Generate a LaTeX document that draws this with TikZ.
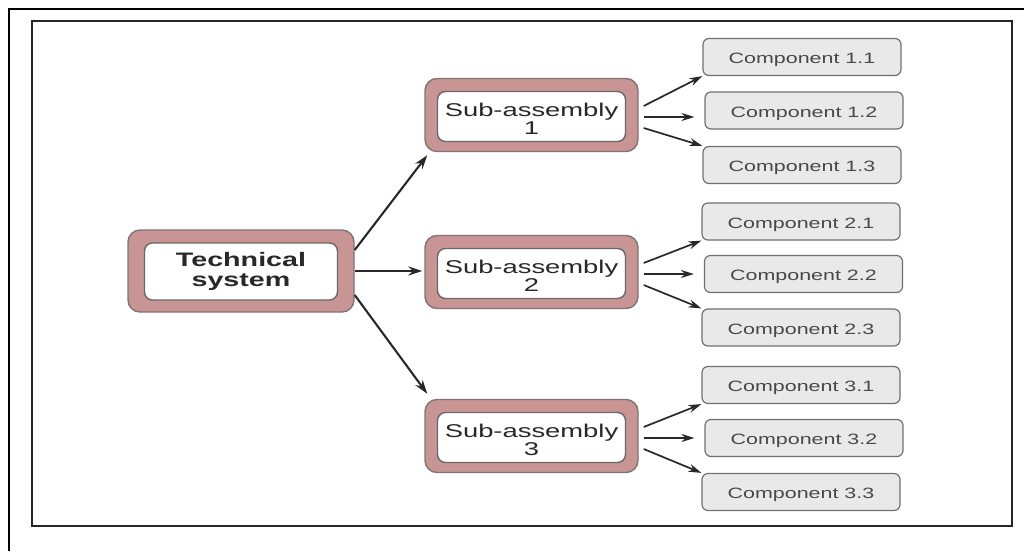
\documentclass[tikz,border=0pt]{standalone}
\usepackage{fontspec}
\setmainfont{Liberation Sans}
\usepackage{graphicx}
\usetikzlibrary{arrows.meta}

\definecolor{shellfill}{RGB}{200,148,148}
\definecolor{shelldraw}{RGB}{128,116,116}
\definecolor{coredraw}{RGB}{105,105,105}
\definecolor{compfill}{RGB}{233,233,233}
\definecolor{compdraw}{RGB}{112,112,112}
\definecolor{ink}{RGB}{40,40,40}

% two centred lines with a fixed baseline distance; #4 is extra room on top
\newcommand\stacktwo[4]{\vbox{\kern#4\baselineskip=#1\lineskiplimit=-100pt\lineskip=0pt
  \halign{\hfil##\hfil\cr#2\cr#3\cr}}}
% horizontally widened lettering
\newcommand\widetext[2]{\scalebox{#1}[1]{#2}}

\tikzset{
  shell/.style={draw=shelldraw, line width=1.4pt, fill=shellfill,
    rounded corners=12pt, inner sep=0pt},
  core/.style={draw=coredraw, line width=1.4pt, fill=white,
    rounded corners=8pt, inner sep=0pt, text=ink},
  comp/.style={draw=compdraw, line width=1.2pt, fill=compfill,
    rounded corners=6pt, inner sep=0pt, minimum width=198pt,
    minimum height=37pt, text=ink!85!white, text height=13pt, text depth=0pt,
    font=\fontsize{15}{17}\selectfont},
  bigarrow/.style={draw=ink, line width=2.1pt,
    -{Stealth[length=14pt, width=9pt]}},
  smallarrow/.style={draw=ink, line width=1.7pt,
    -{Stealth[length=13pt, width=8pt]}},
}

\begin{document}
\begin{tikzpicture}[x=1pt, y=-1pt]
\useasboundingbox (0,0) rectangle (1024,551);

% frames
\draw[line width=2pt, black] (1024,9) -- (9,9) -- (9,551);
\draw[line width=1.6pt, black!85] (32,21) rectangle (1012,526);

% technical system
\node[shell, minimum width=226pt, minimum height=82pt] (ts) at (241,271) {};
\node[core, minimum width=193pt, minimum height=57pt,
      font=\bfseries\fontsize{19.5}{20}\selectfont] (tsin) at (241,271.5)
  {\widetext{1.47}{\stacktwo{20pt}{Technical}{system}{0pt}}};

% sub-assemblies
\foreach \i/\y in {1/115, 2/272, 3/436}{
  \node[shell, minimum width=213pt, minimum height=73pt] (sa\i) at (531.5,\y) {};
  \node[core, minimum width=188pt, minimum height=50pt,
        font=\fontsize{18.5}{18}\selectfont] (sa\i in) at (531.5,\y+1.5)
    {\widetext{1.48}{\stacktwo{18pt}{Sub-assembly}{\i}{4pt}}};
}

% components
\node[comp] (c11) at (802,57)    {\widetext{1.43}{Component 1.1}};
\node[comp] (c12) at (804,110.5) {\widetext{1.43}{Component 1.2}};
\node[comp] (c13) at (802,165)   {\widetext{1.43}{Component 1.3}};
\node[comp] (c21) at (801,221.5) {\widetext{1.43}{Component 2.1}};
\node[comp] (c22) at (803.5,274) {\widetext{1.43}{Component 2.2}};
\node[comp] (c23) at (801,327.5) {\widetext{1.43}{Component 2.3}};
\node[comp] (c31) at (801,385)   {\widetext{1.43}{Component 3.1}};
\node[comp] (c32) at (804,438)   {\widetext{1.43}{Component 3.2}};
\node[comp] (c33) at (801,492)   {\widetext{1.43}{Component 3.3}};

% system to sub-assemblies
\draw[bigarrow] ([yshift=21pt]ts.east) -- ([xshift=3pt,yshift=-3pt]sa1.south west);
\draw[bigarrow, shorten >=2pt] (ts.east) -- (ts.east -| sa2.west);
\draw[bigarrow] ([yshift=-24pt]ts.east) -- ([xshift=3pt,yshift=5pt]sa3.north west);

% sub-assemblies to components
\foreach \i in {1,2,3}{
  \draw[smallarrow] ([xshift=5pt,yshift=9pt]sa\i.east) -- (c\i1.south west);
  \draw[smallarrow, shorten >=10pt] ([xshift=5pt,yshift=-2pt]sa\i.east)
    -- ([yshift=-2pt]sa\i.east -| c\i2.west);
  \draw[smallarrow] ([xshift=5pt,yshift=-13pt]sa\i.east) -- (c\i3.north west);
}
\end{tikzpicture}
\end{document}
